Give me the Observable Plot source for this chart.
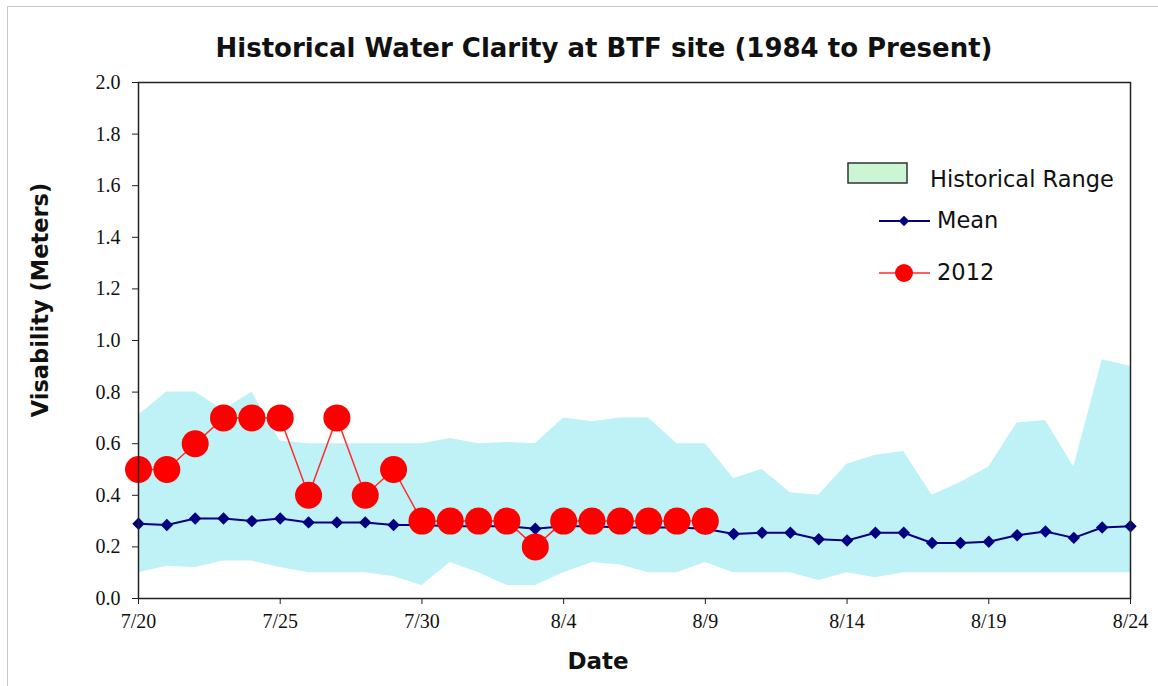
<!DOCTYPE html>
<html>
<head>
<meta charset="utf-8">
<script src="https://cdn.jsdelivr.net/npm/d3@7"></script>
<script src="https://cdn.jsdelivr.net/npm/@observablehq/plot@0.6"></script>
<style>
  html, body { margin: 0; padding: 0; background: #fff; }
  #wrap { position: relative; width: 1158px; height: 686px; overflow: hidden; background: #fff; }
  #frame { position: absolute; left: 7px; top: 6px; width: 1160px; height: 700px; border-left: 1px solid #c8c8c8; border-top: 1px solid #c8c8c8; pointer-events: none; }
  #title { position: absolute; left: 0; width: 1208px; top: 30px; text-align: center; font-family: "DejaVu Sans", sans-serif; font-weight: bold; font-size: 26px; color: #111; line-height: 36px; }
  #chart { position: absolute; left: 0; top: 70px; }
  #ylab { position: absolute; left: 40px; top: 300px; transform: translate(-50%, -50%) rotate(-90deg); font-family: "DejaVu Sans", sans-serif; font-weight: bold; font-size: 22.5px; color: #111; white-space: nowrap; }
  #xlab { position: absolute; left: 598px; top: 661px; transform: translate(-50%, -50%); font-family: "DejaVu Sans", sans-serif; font-weight: bold; font-size: 23px; color: #111; white-space: nowrap; }
  #legend { position: absolute; left: 0; top: 0; }
</style>
</head>
<body>
<div id="wrap">
  <div id="frame"></div>
  <div id="title">Historical Water Clarity at BTF site (1984 to Present)</div>
  <div id="chart"></div>
  <div id="ylab">Visability (Meters)</div>
  <div id="xlab">Date</div>
</div>
<script>
// ---- data ----
const dateLabels = ["7/20","7/21","7/22","7/23","7/24","7/25","7/26","7/27","7/28","7/29","7/30","7/31",
  "8/1","8/2","8/3","8/4","8/5","8/6","8/7","8/8","8/9",
  "8/10","8/11","8/12","8/13","8/14","8/15","8/16","8/17","8/18","8/19","8/20","8/21","8/22","8/23","8/24"];
const histHigh = [0.71,0.80,0.80,0.73,0.80,0.61,0.60,0.60,0.60,0.60,0.60,0.62,
  0.60,0.605,0.60,0.70,0.685,0.70,0.70,0.60,0.60,
  0.465,0.50,0.41,0.40,0.52,0.555,0.57,0.40,0.45,0.51,0.68,0.69,0.51,0.925,0.90];
const histLow = [0.10,0.125,0.12,0.145,0.145,0.12,0.10,0.10,0.10,0.085,0.05,0.14,
  0.10,0.05,0.05,0.10,0.14,0.13,0.10,0.10,0.14,
  0.10,0.10,0.10,0.07,0.10,0.08,0.10,0.10,0.10,0.10,0.10,0.10,0.10,0.10,0.10];
const meanVals = [0.29,0.285,0.31,0.31,0.30,0.31,0.295,0.295,0.295,0.285,0.285,0.28,
  0.28,0.28,0.27,0.28,0.28,0.275,0.275,0.275,0.27,
  0.25,0.255,0.255,0.23,0.225,0.255,0.255,0.215,0.215,0.22,0.245,0.26,0.235,0.275,0.28];
const vals2012 = [0.5,0.5,0.6,0.7,0.7,0.7,0.4,0.7,0.4,0.5,0.3,0.3,
  0.3,0.3,0.2,0.3,0.3,0.3,0.3,0.3,0.3];
const xTickLabels = ["7/20","7/25","7/30","8/4","8/9","8/14","8/19","8/24"];
const yTicks = [0,0.2,0.4,0.6,0.8,1.0,1.2,1.4,1.6,1.8,2.0];
const year = 2012;

// ---- build tables ----
const toDate = s => { const [m, d] = s.split("/").map(Number); return new Date(Date.UTC(year, m - 1, d)); };
const rows = dateLabels.map((s, i) => ({date: toDate(s), low: histLow[i], high: histHigh[i], mean: meanVals[i]}));
const rows2012 = vals2012.map((v, i) => ({date: toDate(dateLabels[i]), value: v}));
const xTicks = xTickLabels.map(toDate);

const chart = Plot.plot({
  width: 1158,
  height: 616,
  marginTop: 12,
  marginBottom: 88,
  marginLeft: 138,
  marginRight: 28,
  style: {fontFamily: "'Liberation Serif', serif", fontSize: "20px", color: "#111", background: "transparent"},
  x: {type: "utc", domain: [toDate("7/20"), toDate("8/24")]},
  y: {domain: [0, 2]},
  marks: [
    Plot.areaY(rows, {x: "date", y1: "low", y2: "high", fill: "#bff2f7", curve: "linear"}),
    Plot.line(rows, {x: "date", y: "mean", stroke: "#000080", strokeWidth: 2}),
    Plot.dot(rows, {x: "date", y: "mean", symbol: "diamond2", r: 5.6, fill: "#000080", stroke: "none"}),
    Plot.line(rows2012, {x: "date", y: "value", stroke: "#ff2a2a", strokeWidth: 1.5}),
    Plot.dot(rows2012, {x: "date", y: "value", r: 13.5, fill: "#ff0000", stroke: "none"}),
    Plot.frame({stroke: "#222", strokeWidth: 1.5}),
    Plot.axisY({ticks: yTicks, tickFormat: d3.format(".1f"), tickSize: 6, tickPadding: 12, label: null, stroke: "#222"}),
    Plot.axisX({ticks: xTicks, tickFormat: d3.utcFormat("%-m/%-d"), tickSize: 6, tickPadding: 9, label: null, stroke: "#222"})
  ]
});
document.getElementById("chart").appendChild(chart);

// ---- legend ----
const lg = d3.select("#wrap").append("svg").attr("id", "legend").attr("width", 1158).attr("height", 686);
lg.append("rect").attr("x", 848).attr("y", 163).attr("width", 59).attr("height", 20)
  .attr("fill", "#ccf5d4").attr("stroke", "#333").attr("stroke-width", 1.5);
const tStyle = sel => sel.attr("font-family", "'DejaVu Sans', sans-serif").attr("font-size", 22.5).attr("fill", "#111").attr("dominant-baseline", "central");
lg.append("text").attr("x", 930).attr("y", 179).text("Historical Range").call(tStyle);
lg.append("line").attr("x1", 879).attr("x2", 930).attr("y1", 221).attr("y2", 221).attr("stroke", "#000080").attr("stroke-width", 2);
lg.append("path").attr("d", d3.symbol(d3.symbolDiamond2, 70)()).attr("transform", "translate(904,221)").attr("fill", "#000080");
lg.append("text").attr("x", 937).attr("y", 220).text("Mean").call(tStyle);
lg.append("line").attr("x1", 879).attr("x2", 930).attr("y1", 273).attr("y2", 273).attr("stroke", "#ff2a2a").attr("stroke-width", 1.5);
lg.append("circle").attr("cx", 904).attr("cy", 273).attr("r", 9).attr("fill", "#ff0000");
lg.append("text").attr("x", 937).attr("y", 272).text("2012").call(tStyle);
</script>
</body>
</html>
